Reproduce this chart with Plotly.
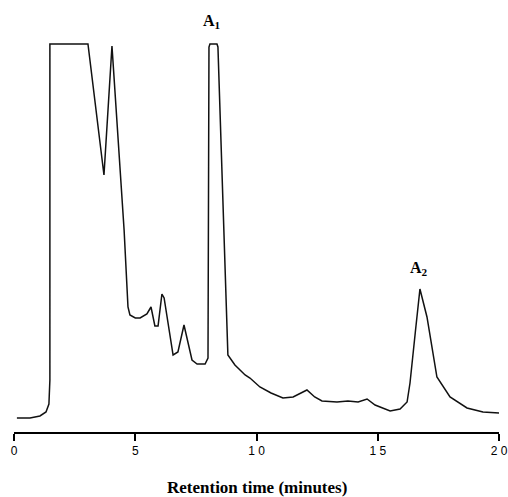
import plotly.graph_objects as go

# Retention time (minutes) and detector signal (arbitrary units)
time_min = [0.12, 0.66, 1.07, 1.32, 1.44, 1.48, 1.48, 3.05, 3.71, 4.04, 4.54, 4.70,
            4.78, 5.00, 5.20, 5.48, 5.65, 5.81, 5.94, 6.10, 6.19, 6.56, 6.76, 7.01, 7.34,
            7.55, 7.88, 8.00, 8.04, 8.08, 8.37, 8.41, 8.82, 9.11, 9.53, 9.73, 10.14,
            10.60, 11.09, 11.51, 12.08, 12.40, 12.70, 13.32, 13.77, 14.19, 14.56, 14.89, 15.51,
            15.92, 16.21, 16.33, 16.55, 16.74, 17.03, 17.44, 17.98, 18.68, 19.34, 20.0]
signal = [14, 14, 16, 20, 28, 52, 388, 388, 257, 386, 202, 125,
          117, 114, 114, 118, 125, 106, 106, 138, 134, 77, 80, 107, 72,
          68, 68, 74, 385, 388, 388, 385, 77, 67, 57, 54, 45,
          39, 34, 35, 42, 35, 31, 30, 31, 30, 33, 27, 21,
          23, 30, 49, 100, 143, 115, 55, 35, 24, 20, 19]

tick_vals = [0, 5, 10, 15, 20]
tick_text = ["0", "5", "1 0", "1 5", "2 0"]

fig = go.Figure()
fig.add_trace(go.Scatter(x=time_min, y=signal, mode="lines",
                         line=dict(color="#111111", width=1.5),
                         showlegend=False, hoverinfo="skip"))

fig.update_layout(
    width=508, height=497,
    margin=dict(l=14, r=9, t=20, b=65),
    paper_bgcolor="white", plot_bgcolor="white",
    xaxis=dict(range=[0, 20], tickvals=tick_vals, ticktext=tick_text, automargin=False,
               showgrid=False, zeroline=False, showline=True, linecolor="black",
               linewidth=2, ticks="outside", ticklen=7, tickwidth=1.5, tickcolor="black",
               tickfont=dict(family="Liberation Sans", size=12, color="black")),
    yaxis=dict(range=[0, 412], visible=False, showgrid=False, zeroline=False, automargin=False),
    annotations=[
        dict(x=8.16, y=411, xref="x", yref="y", text="<b>A<sub>1</sub></b>", showarrow=False,
             font=dict(family="Liberation Serif", size=16, color="black")),
        dict(x=16.72, y=164, xref="x", yref="y", text="<b>A<sub>2</sub></b>", showarrow=False,
             font=dict(family="Liberation Serif", size=16, color="black")),
        dict(x=0.5, y=-0.135, xref="paper", yref="paper", text="<b>Retention time (minutes)</b>",
             showarrow=False, xanchor="center", yanchor="middle",
             font=dict(family="Liberation Serif", size=17, color="black")),
    ],
)

fig.write_html("out.html", config={"displayModeBar": False},
               post_script="document.body.style.margin='0';")
